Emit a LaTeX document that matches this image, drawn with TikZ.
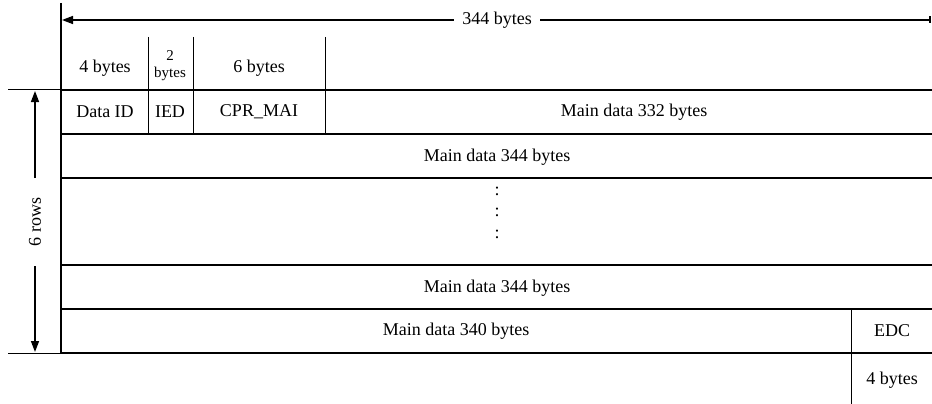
\documentclass[tikz,border=0pt]{standalone}
\usepackage{fontspec}
\setmainfont{Liberation Serif}
\usetikzlibrary{arrows.meta}
\begin{document}
\begin{tikzpicture}[x=1pt,y=-1pt,
  lbl/.style={inner sep=1pt, font=\fontsize{18}{21}\selectfont},
  small/.style={inner sep=0pt, font=\fontsize{15}{17}\selectfont},
  outerln/.style={line width=2pt},
  innerln/.style={line width=1.3pt},
  thinln/.style={line width=1pt},
  arr/.style={line width=1.5pt}]
\useasboundingbox (0,0) rectangle (932,404);
% key coordinates
\coordinate (lt) at (61,3);
\coordinate (lb) at (61,353);
\coordinate (r0l) at (8,90);   \coordinate (r0) at (61,90);  \coordinate (r0r) at (932,90);
\coordinate (r1) at (61,134);  \coordinate (r1r) at (932,134);
\coordinate (r2) at (61,178);  \coordinate (r2r) at (932,178);
\coordinate (r3) at (61,265);  \coordinate (r3r) at (932,265);
\coordinate (r4) at (61,309);  \coordinate (r4r) at (932,309);
\coordinate (r5l) at (8,353);  \coordinate (r5) at (61,353);  \coordinate (r5r) at (932,353);
% header column separators
\coordinate (c1t) at (148,37); \coordinate (c1b) at (148,134);
\coordinate (c2t) at (193,37); \coordinate (c2b) at (193,134);
\coordinate (c3t) at (325,37); \coordinate (c3b) at (325,134);
\coordinate (edt) at (851,309); \coordinate (edb) at (851,404);
% table lines
\draw[outerln] (lt) -- (lb);
\draw[thinln] (r0l) -- (r0);
\draw[outerln] (r0) -- (r0r);
\draw[innerln] (r1) -- (r1r);
\draw[innerln] (r2) -- (r2r);
\draw[innerln] (r3) -- (r3r);
\draw[innerln] (r4) -- (r4r);
\draw[thinln] (r5l) -- (r5);
\draw[outerln] (r5) -- (r5r);
\draw[thinln] (c1t) -- (c1b);
\draw[thinln] (c2t) -- (c2b);
\draw[thinln] (c3t) -- (c3b);
\draw[thinln] (edt) -- (edb);
% top dimension arrow
\coordinate (aL) at (62,20);
\coordinate (aR) at (931,20);
\draw[arr,{Triangle[width=8pt,length=11pt]}-{Bar[width=7pt,line width=2pt]}] (aL) -- (aR);
\node[lbl,fill=white,inner xsep=8pt] (tot) at (497,20) {344 bytes};
% left dimension arrow
\coordinate (vT) at (35,91);
\coordinate (vTs) at (35,178);
\coordinate (vB) at (35,352);
\coordinate (vBs) at (35,266);
\draw[arr,-{Triangle[width=8pt,length=11pt]}] (vTs) -- (vT);
\draw[arr,-{Triangle[width=8pt,length=11pt]}] (vBs) -- (vB);
\node[lbl,rotate=90] (rows) at (35,222) {6 rows};
% header labels
\node[lbl] (h1) at (105,68) {4 bytes};
\node[small] (h2a) at (170,56) {2};
\node[small] (h2b) at (170,74) {bytes};
\node[lbl] (h3) at (259,68) {6 bytes};
% row 1
\node[lbl] (did) at (105,112) {Data ID};
\node[lbl] (ied) at (170,112) {IED};
\node[lbl] (cpr) at (259,112) {CPR\_MAI};
\node[lbl] (m1) at (634,112) {Main data 332 bytes};
% row 2
\node[lbl] (m2) at (497,157) {Main data 344 bytes};
% dots
\node[lbl] (d1) at (497,191) {:};
\node[lbl] (d2) at (497,212) {:};
\node[lbl] (d3) at (497,234) {:};
% row 4
\node[lbl] (m4) at (497,288) {Main data 344 bytes};
% row 5
\node[lbl] (m5) at (456,331) {Main data 340 bytes};
\node[lbl] (edc) at (892,331) {EDC};
\node[lbl] (eb) at (892,380) {4 bytes};
\end{tikzpicture}
\end{document}
